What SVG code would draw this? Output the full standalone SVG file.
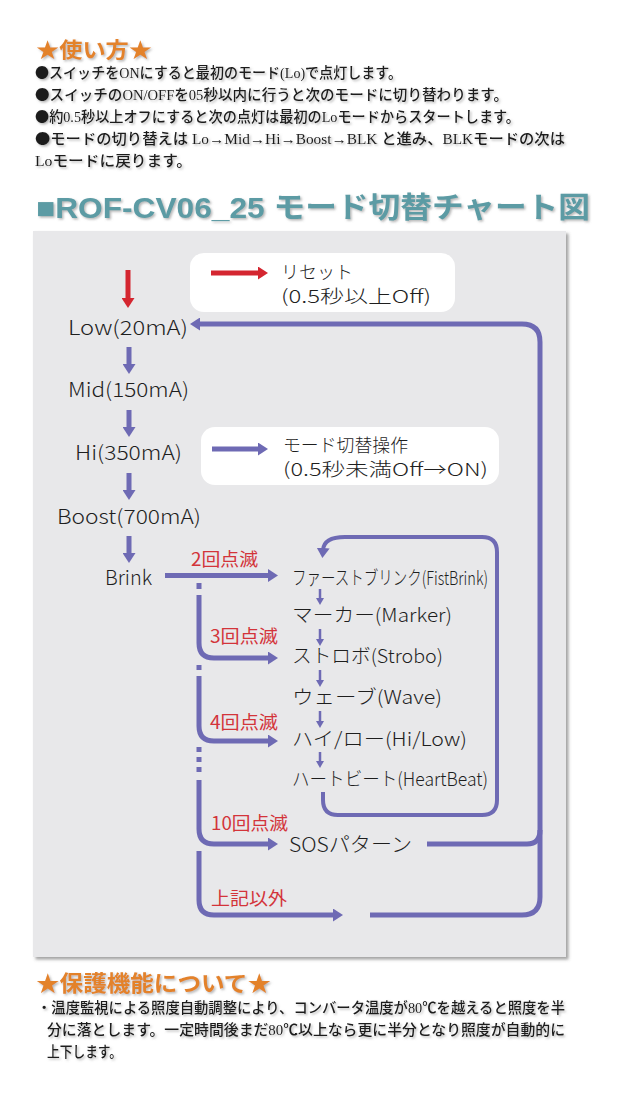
<svg xmlns="http://www.w3.org/2000/svg" width="640" height="1100" viewBox="0 0 640 1100">
<defs>
<style>
.hd{font-family:"Noto Sans CJK JP","Noto Sans",sans-serif;font-weight:bold;fill:#e3822c}
.tx{font-family:"Liberation Serif","Noto Sans CJK JP",serif;font-size:14.5px;font-weight:500;fill:#1a1a1a}
.bl{font-family:"Noto Sans CJK JP",sans-serif}
.ttl{font-family:"Liberation Sans","Noto Sans CJK JP",sans-serif;font-weight:bold;font-size:29px;fill:#5b9ba4}
.lb{font-family:"Noto Sans CJK JP","Noto Sans",sans-serif;font-size:20px;font-weight:300;fill:#1e1e1e}
.lg{font-family:"Noto Sans CJK JP","Noto Sans",sans-serif;font-size:18px;font-weight:300;fill:#1e1e1e}
.it{font-family:"Noto Sans CJK JP","Noto Sans",sans-serif;font-size:19px;font-weight:300;fill:#1e1e1e}
.rd{font-family:"Noto Sans CJK JP","Noto Sans",sans-serif;font-size:18px;fill:#d3343a}
.ln{fill:none;stroke:#6e6ab4;stroke-width:5}
.sl{fill:none;stroke:#6e6ab4;stroke-width:2.5}
.box{fill:#ffffff}
</style>
<filter id="ts" x="-5%" y="-30%" width="110%" height="160%">
<feDropShadow dx="1.5" dy="1.5" stdDeviation="1" flood-color="#777" flood-opacity="0.55"/>
</filter>
<filter id="ps" x="-2%" y="-2%" width="105%" height="105%">
<feDropShadow dx="2.5" dy="2.5" stdDeviation="1.5" flood-color="#666" flood-opacity="0.6"/>
</filter>
<marker id="ab" markerUnits="userSpaceOnUse" markerWidth="12" markerHeight="13" refX="2" refY="6.5" orient="auto">
<path d="M0,0 L10,6.5 L0,13 z" fill="#6e6ab4"/>
</marker>
<marker id="ar" markerUnits="userSpaceOnUse" markerWidth="12" markerHeight="13" refX="2" refY="6.5" orient="auto">
<path d="M0,0 L10,6.5 L0,13 z" fill="#d42630"/>
</marker>
<marker id="as" markerUnits="userSpaceOnUse" markerWidth="8" markerHeight="8" refX="1" refY="4" orient="auto">
<path d="M0,0 L7,4 L0,8 z" fill="#6e6ab4"/>
</marker>
</defs>
<rect width="640" height="1100" fill="#ffffff"/>

<g id="usage">
<text class="hd" x="36" y="57" font-size="21" textLength="116" lengthAdjust="spacingAndGlyphs" filter="url(#ts)">★使い方★</text>
<g class="tx" filter="url(#ts)">
<text x="35" y="78" textLength="367" lengthAdjust="spacingAndGlyphs"><tspan class="bl">●</tspan>スイッチをONにすると最初のモード(Lo)で点灯します。</text>
<text x="35" y="100" textLength="473" lengthAdjust="spacingAndGlyphs"><tspan class="bl">●</tspan>スイッチのON/OFFを05秒以内に行うと次のモードに切り替わります。</text>
<text x="35" y="122" textLength="485" lengthAdjust="spacingAndGlyphs"><tspan class="bl">●</tspan>約0.5秒以上オフにすると次の点灯は最初のLoモードからスタートします。</text>
<text x="35" y="144" textLength="530" lengthAdjust="spacingAndGlyphs"><tspan class="bl">●</tspan>モードの切り替えは Lo→Mid→Hi→Boost→BLK と進み、BLKモードの次は</text>
<text x="35" y="166" textLength="157" lengthAdjust="spacingAndGlyphs">Loモードに戻ります。</text>
</g>
</g>

<text id="title" class="ttl" x="36" y="218" textLength="554" lengthAdjust="spacingAndGlyphs" filter="url(#ts)">■ROF-CV06_25 モード切替チャート図</text>

<rect id="panel" x="33" y="231" width="533" height="726" fill="#e8e8ea" filter="url(#ps)"/>

<g id="legend-reset">
<rect class="box" x="190" y="253" width="265" height="59" rx="14"/>
<line x1="211" y1="273" x2="260" y2="273" stroke="#d42630" stroke-width="5" marker-end="url(#ar)"/>
<text class="lg" x="281" y="279">リセット</text>
<text class="lg" x="281" y="303" textLength="150" lengthAdjust="spacingAndGlyphs">(0.5秒以上Off)</text>
</g>

<g id="legend-switch">
<rect class="box" x="201" y="427" width="298" height="58" rx="14"/>
<line class="ln" x1="212" y1="449" x2="260" y2="449" marker-end="url(#ab)"/>
<text class="lg" x="283" y="452" textLength="125" lengthAdjust="spacingAndGlyphs">モード切替操作</text>
<text class="lg" x="283" y="476" textLength="205" lengthAdjust="spacingAndGlyphs">(0.5秒未満Off→ON)</text>
</g>

<g id="node-low"><text class="lb" x="68" y="335" textLength="120" lengthAdjust="spacingAndGlyphs">Low(20mA)</text></g>
<g id="node-mid"><text class="lb" x="68" y="397" textLength="121" lengthAdjust="spacingAndGlyphs">Mid(150mA)</text></g>
<g id="node-hi"><text class="lb" x="75" y="460" textLength="107" lengthAdjust="spacingAndGlyphs">Hi(350mA)</text></g>
<g id="node-boost"><text class="lb" x="57" y="524" textLength="144" lengthAdjust="spacingAndGlyphs">Boost(700mA)</text></g>
<g id="node-brink"><text class="lb" x="105" y="585" textLength="47" lengthAdjust="spacingAndGlyphs">Brink</text></g>

<g id="node-fistbrink"><text class="it" x="292" y="585" textLength="196" lengthAdjust="spacingAndGlyphs">ファーストブリンク(FistBrink)</text></g>
<g id="node-marker"><text class="it" x="292" y="622" textLength="160" lengthAdjust="spacingAndGlyphs">マーカー(Marker)</text></g>
<g id="node-strobo"><text class="it" x="292" y="663" textLength="151" lengthAdjust="spacingAndGlyphs">ストロボ(Strobo)</text></g>
<g id="node-wave"><text class="it" x="292" y="704" textLength="150" lengthAdjust="spacingAndGlyphs">ウェーブ(Wave)</text></g>
<g id="node-hilow"><text class="it" x="292" y="746" textLength="175" lengthAdjust="spacingAndGlyphs">ハイ/ロー(Hi/Low)</text></g>
<g id="node-heartbeat"><text class="it" x="292" y="786" textLength="196" lengthAdjust="spacingAndGlyphs">ハートビート(HeartBeat)</text></g>
<g id="node-sos"><text class="lb" x="289" y="852" textLength="123" lengthAdjust="spacingAndGlyphs">SOSパターン</text></g>

<g id="connectors">
<line x1="128" y1="270" x2="128" y2="300" stroke="#d42630" stroke-width="5" marker-end="url(#ar)"/>
<line class="ln" x1="129" y1="347" x2="129" y2="366" marker-end="url(#ab)"/>
<line class="ln" x1="129" y1="410" x2="129" y2="429" marker-end="url(#ab)"/>
<line class="ln" x1="129" y1="473" x2="129" y2="492" marker-end="url(#ab)"/>
<line class="ln" x1="129" y1="536" x2="129" y2="555" marker-end="url(#ab)"/>
<line class="ln" x1="165" y1="575.5" x2="270" y2="575.5" marker-end="url(#ab)"/>
<path class="ln" d="M370,915 H522 Q540,915 540,897 V342 Q540,324 522,324 H198" marker-end="url(#ab)"/>
<path class="ln" d="M427,844 H527 Q540,844 540,830"/>
<path d="M323,792 V800 Q323,815 338,815 H482 Q497,815 497,800 V552 Q497,537 482,537 H345 Q324,537 323,550" fill="none" stroke="#6e6ab4" stroke-width="4" marker-end="url(#ab)"/>
<line class="sl" x1="320" y1="589" x2="320" y2="599" marker-end="url(#as)"/>
<line class="sl" x1="320" y1="629" x2="320" y2="640" marker-end="url(#as)"/>
<line class="sl" x1="320" y1="670" x2="320" y2="681" marker-end="url(#as)"/>
<line class="sl" x1="320" y1="711" x2="320" y2="722" marker-end="url(#as)"/>
<line class="sl" x1="320" y1="752" x2="320" y2="762" marker-end="url(#as)"/>
<line class="ln" x1="199" y1="583" x2="199" y2="589"/>
<path class="ln" d="M199,595 V643 Q199,658 214,658 H270" marker-end="url(#ab)"/>
<line class="ln" x1="199" y1="665" x2="199" y2="670"/>
<path class="ln" d="M199,676 V726 Q199,741 214,741 H270" marker-end="url(#ab)"/>
<line class="ln" x1="199" y1="747" x2="199" y2="752"/>
<line class="ln" x1="199" y1="757" x2="199" y2="762"/>
<line class="ln" x1="199" y1="767" x2="199" y2="772"/>
<path class="ln" d="M199,780 V829 Q199,844 214,844 H270" marker-end="url(#ab)"/>
<path class="ln" d="M199,851 V900 Q199,915 214,915 H335" marker-end="url(#ab)"/>
<text class="rd" x="191" y="566" textLength="67" lengthAdjust="spacingAndGlyphs">2回点滅</text>
<text class="rd" x="210" y="643" textLength="68" lengthAdjust="spacingAndGlyphs">3回点滅</text>
<text class="rd" x="210" y="729" textLength="68" lengthAdjust="spacingAndGlyphs">4回点滅</text>
<text class="rd" x="211" y="830" textLength="77" lengthAdjust="spacingAndGlyphs">10回点滅</text>
<text class="rd" x="211" y="905" textLength="76" lengthAdjust="spacingAndGlyphs">上記以外</text>
</g>

<g id="protection">
<text class="hd" x="36" y="991" font-size="22" textLength="235" lengthAdjust="spacingAndGlyphs" filter="url(#ts)">★保護機能について★</text>
<g class="tx" filter="url(#ts)">
<text x="37" y="1013" textLength="528" lengthAdjust="spacingAndGlyphs">・温度監視による照度自動調整により、コンバータ温度が80℃を越えると照度を半</text>
<text x="47" y="1035" textLength="518" lengthAdjust="spacingAndGlyphs">分に落とします。一定時間後まだ80℃以上なら更に半分となり照度が自動的に</text>
<text x="47" y="1057" textLength="75" lengthAdjust="spacingAndGlyphs">上下します。</text>
</g>
</g>
</svg>
